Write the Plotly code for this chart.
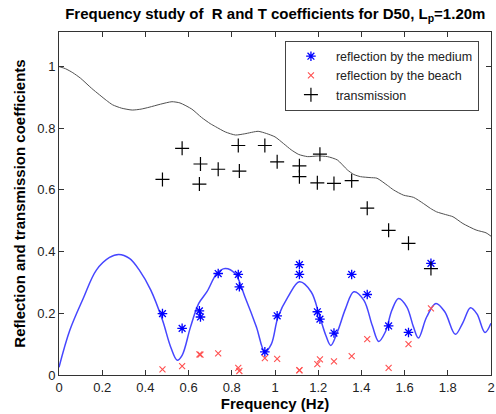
import plotly.graph_objects as go

# Experimental frequencies (Hz)
freq = [0.479, 0.570, 0.650, 0.655, 0.737, 0.830, 0.835, 0.953, 1.010,
        1.113, 1.113, 1.196, 1.208, 1.273, 1.355, 1.427, 1.526, 1.618, 1.722]
# Reflection by the medium (measured)
r_medium = [0.199, 0.151, 0.208, 0.188, 0.329, 0.326, 0.286, 0.075, 0.192,
            0.358, 0.326, 0.205, 0.181, 0.136, 0.326, 0.261, 0.159, 0.138, 0.362]
# Reflection by the beach (measured)
r_beach = [0.018, 0.029, 0.067, 0.066, 0.070, 0.023, 0.013, 0.055, 0.052,
           0.015, 0.016, 0.035, 0.051, 0.044, 0.061, 0.116, 0.023, 0.100, 0.216]
# Transmission (measured)
trans = [0.634, 0.735, 0.619, 0.684, 0.667, 0.744, 0.661, 0.744, 0.691,
         0.678, 0.643, 0.623, 0.716, 0.621, 0.630, 0.541, 0.469, 0.427, 0.345]

# Theoretical transmission curve
t_curve_f = [0.00, 0.03, 0.064, 0.10, 0.15, 0.188, 0.22, 0.248, 0.29, 0.339,
             0.38, 0.417, 0.47, 0.523, 0.56, 0.615, 0.66, 0.70, 0.725, 0.77,
             0.817, 0.86, 0.922, 0.96, 1.0, 1.04, 1.075, 1.11, 1.151, 1.20,
             1.243, 1.289, 1.335, 1.365, 1.396, 1.44, 1.472, 1.52, 1.549, 1.595,
             1.641, 1.687, 1.72, 1.748, 1.79, 1.824, 1.87, 1.931, 1.977, 2.0]
t_curve = [1.000, 0.993, 0.980, 0.962, 0.930, 0.908, 0.890, 0.876, 0.865, 0.859,
           0.862, 0.868, 0.878, 0.886, 0.882, 0.862, 0.835, 0.815, 0.805, 0.788,
           0.778, 0.782, 0.790, 0.783, 0.772, 0.750, 0.730, 0.715, 0.708, 0.710,
           0.708, 0.697, 0.665, 0.650, 0.643, 0.640, 0.638, 0.615, 0.600, 0.583,
           0.576, 0.556, 0.540, 0.529, 0.520, 0.513, 0.491, 0.470, 0.461, 0.450]

# Theoretical reflection curve
r_curve_f = [0.00, 0.05, 0.112, 0.173, 0.234, 0.277, 0.326, 0.372, 0.425, 0.479,
             0.517, 0.547, 0.570, 0.609, 0.647, 0.685, 0.731, 0.769, 0.815, 0.861,
             0.914, 0.953, 0.983, 1.014, 1.06, 1.113, 1.167, 1.205, 1.235, 1.258,
             1.289, 1.327, 1.365, 1.411, 1.45, 1.48, 1.511, 1.541, 1.572, 1.61,
             1.641, 1.664, 1.702, 1.745, 1.786, 1.835, 1.87, 1.905, 1.935, 1.972, 2.0]
r_curve = [0.025, 0.145, 0.248, 0.340, 0.381, 0.391, 0.378, 0.340, 0.275, 0.178,
           0.091, 0.048, 0.064, 0.156, 0.232, 0.270, 0.329, 0.345, 0.329, 0.253,
           0.156, 0.075, 0.100, 0.188, 0.253, 0.302, 0.270, 0.194, 0.129, 0.096,
           0.140, 0.216, 0.270, 0.243, 0.161, 0.109, 0.140, 0.210, 0.248, 0.221,
           0.156, 0.120, 0.188, 0.232, 0.205, 0.132, 0.170, 0.218, 0.198, 0.138, 0.168]

x_ticks = [0, 0.2, 0.4, 0.6, 0.8, 1, 1.2, 1.4, 1.6, 1.8, 2]
y_ticks = [0, 0.2, 0.4, 0.6, 0.8, 1]

FONT = "Arial, Liberation Sans, sans-serif"

fig = go.Figure()
fig.add_trace(go.Scatter(x=t_curve_f, y=t_curve, mode="lines", showlegend=False,
                         line=dict(color="#505050", width=1, shape="spline", smoothing=0.6),
                         hoverinfo="skip"))
fig.add_trace(go.Scatter(x=r_curve_f, y=r_curve, mode="lines", showlegend=False,
                         line=dict(color="rgb(70,70,255)", width=1.5, shape="spline", smoothing=1),
                         hoverinfo="skip"))
fig.add_trace(go.Scatter(x=freq, y=r_medium, mode="markers", name="reflection by the medium",
                         marker=dict(symbol="asterisk-open", size=8, color="#0000ff",
                                     line=dict(color="#0000ff", width=1.3))))
fig.add_trace(go.Scatter(x=freq, y=r_beach, mode="markers", name="reflection by the beach",
                         marker=dict(symbol="x-thin-open", size=6, color="rgb(255,80,80)",
                                     line=dict(color="rgb(255,80,80)", width=1.1))))
fig.add_trace(go.Scatter(x=freq, y=trans, mode="markers", name="transmission",
                         marker=dict(symbol="cross-thin-open", size=10, color="#000000",
                                     line=dict(color="#000000", width=1.2))))

axis_common = dict(showline=True, linecolor="#333333", linewidth=1, mirror="ticks",
                   ticks="inside", ticklen=5, tickcolor="#333333", showgrid=False,
                   zeroline=False, ticklabeloverflow="allow",
                   tickfont=dict(family=FONT, size=13, color="#222222"))

fig.update_layout(
    width=496, height=414,
    margin=dict(l=59, r=1, t=32, b=39),
    paper_bgcolor="white", plot_bgcolor="white",
    title=dict(text="Frequency study of \u00a0R and T coefficients for D50, L<sub>p</sub>=1.20m",
               font=dict(family=FONT, size=15, color="black", weight="bold"),
               x=0.555, xanchor="center", y=0.966, yanchor="middle"),
    xaxis=dict(range=[0, 2], tickvals=x_ticks, ticktext=[f"{v:g}" for v in x_ticks],
               title=dict(text="Frequency (Hz)", standoff=4,
                          font=dict(family=FONT, size=15, color="black", weight="bold")),
               **axis_common),
    yaxis=dict(range=[0, 1.112], tickvals=y_ticks, ticktext=[f"{v:g}" for v in y_ticks],
               title=dict(text="Reflection and transmission coefficients", standoff=8,
                          font=dict(family=FONT, size=15, color="black", weight="bold")),
               **axis_common),
    legend=dict(x=0.523, y=0.975, xanchor="left", yanchor="top",
                bordercolor="#444444", borderwidth=1, bgcolor="white",
                font=dict(family=FONT, size=12.5, color="#222222"), itemwidth=40),
    showlegend=True,
)

fig.write_html("out.html", config={"displayModeBar": False},
               post_script="document.body.style.margin='0px';")
